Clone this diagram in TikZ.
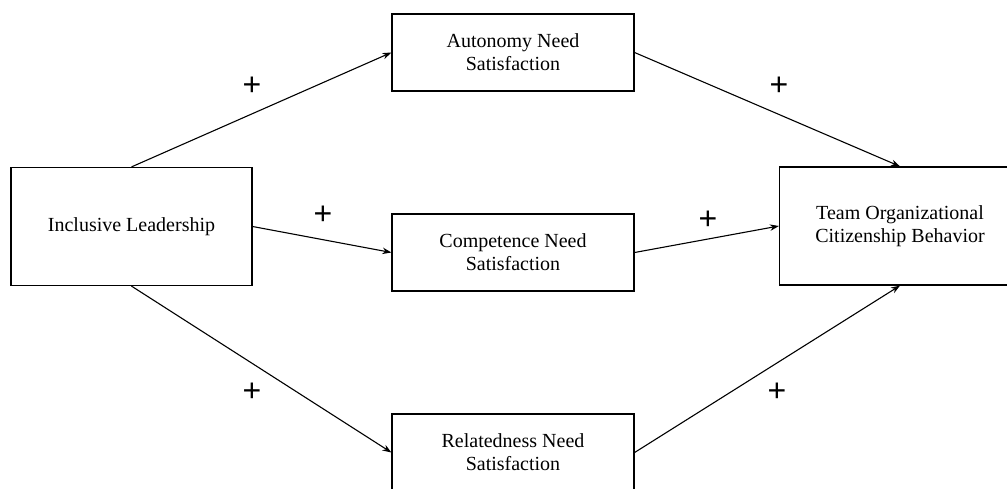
\documentclass[tikz,border=0pt]{standalone}
\usepackage{fontspec}
\setmainfont{Liberation Serif}
\newfontfamily\plusfont{Liberation Sans}
\usetikzlibrary{arrows.meta}
\begin{document}
\begin{tikzpicture}[x=1pt,y=-1pt,
  box/.style={draw, line width=1.2pt, inner sep=0pt, align=center, font=\fontsize{20}{23}\selectfont},
  bigbox/.style={box, minimum width=241pt, minimum height=118pt},
  smallbox/.style={box, minimum width=242pt, minimum height=77pt},
  conn/.style={line width=1.1pt, -{Stealth[length=9pt,width=6.5pt]}},
  plus/.style={font=\plusfont\fontsize{32}{32}\selectfont, inner sep=0pt}]
\useasboundingbox (0,0) rectangle (1007,488);
\clip (0,0) rectangle (1007,488);
\node[bigbox] (il) at (131.5,226.5) {Inclusive Leadership};
\node[smallbox] (aut) at (513,52.5) {Autonomy Need\\Satisfaction};
\node[smallbox] (com) at (513,252.5) {Competence Need\\Satisfaction};
\node[smallbox] (rel) at (513,452.5) {Relatedness Need\\Satisfaction};
\node[bigbox] (toc) at (900,226) {Team Organizational\\Citizenship Behavior};
\draw[conn] (il.north) -- (aut.west);
\draw[conn] (il.east) -- (com.west);
\draw[conn] (il.south) -- (rel.west);
\draw[conn] (aut.east) -- (toc.north);
\draw[conn] (com.east) -- (toc.west);
\draw[conn] (rel.east) -- (toc.south);
\node[plus] (p1) at (252,86) {+};
\node[plus] (p2) at (323,215) {+};
\node[plus] (p3) at (708,220) {+};
\node[plus] (p4) at (779,86) {+};
\node[plus] (p5) at (252,392) {+};
\node[plus] (p6) at (777,392) {+};
\end{tikzpicture}
\end{document}
